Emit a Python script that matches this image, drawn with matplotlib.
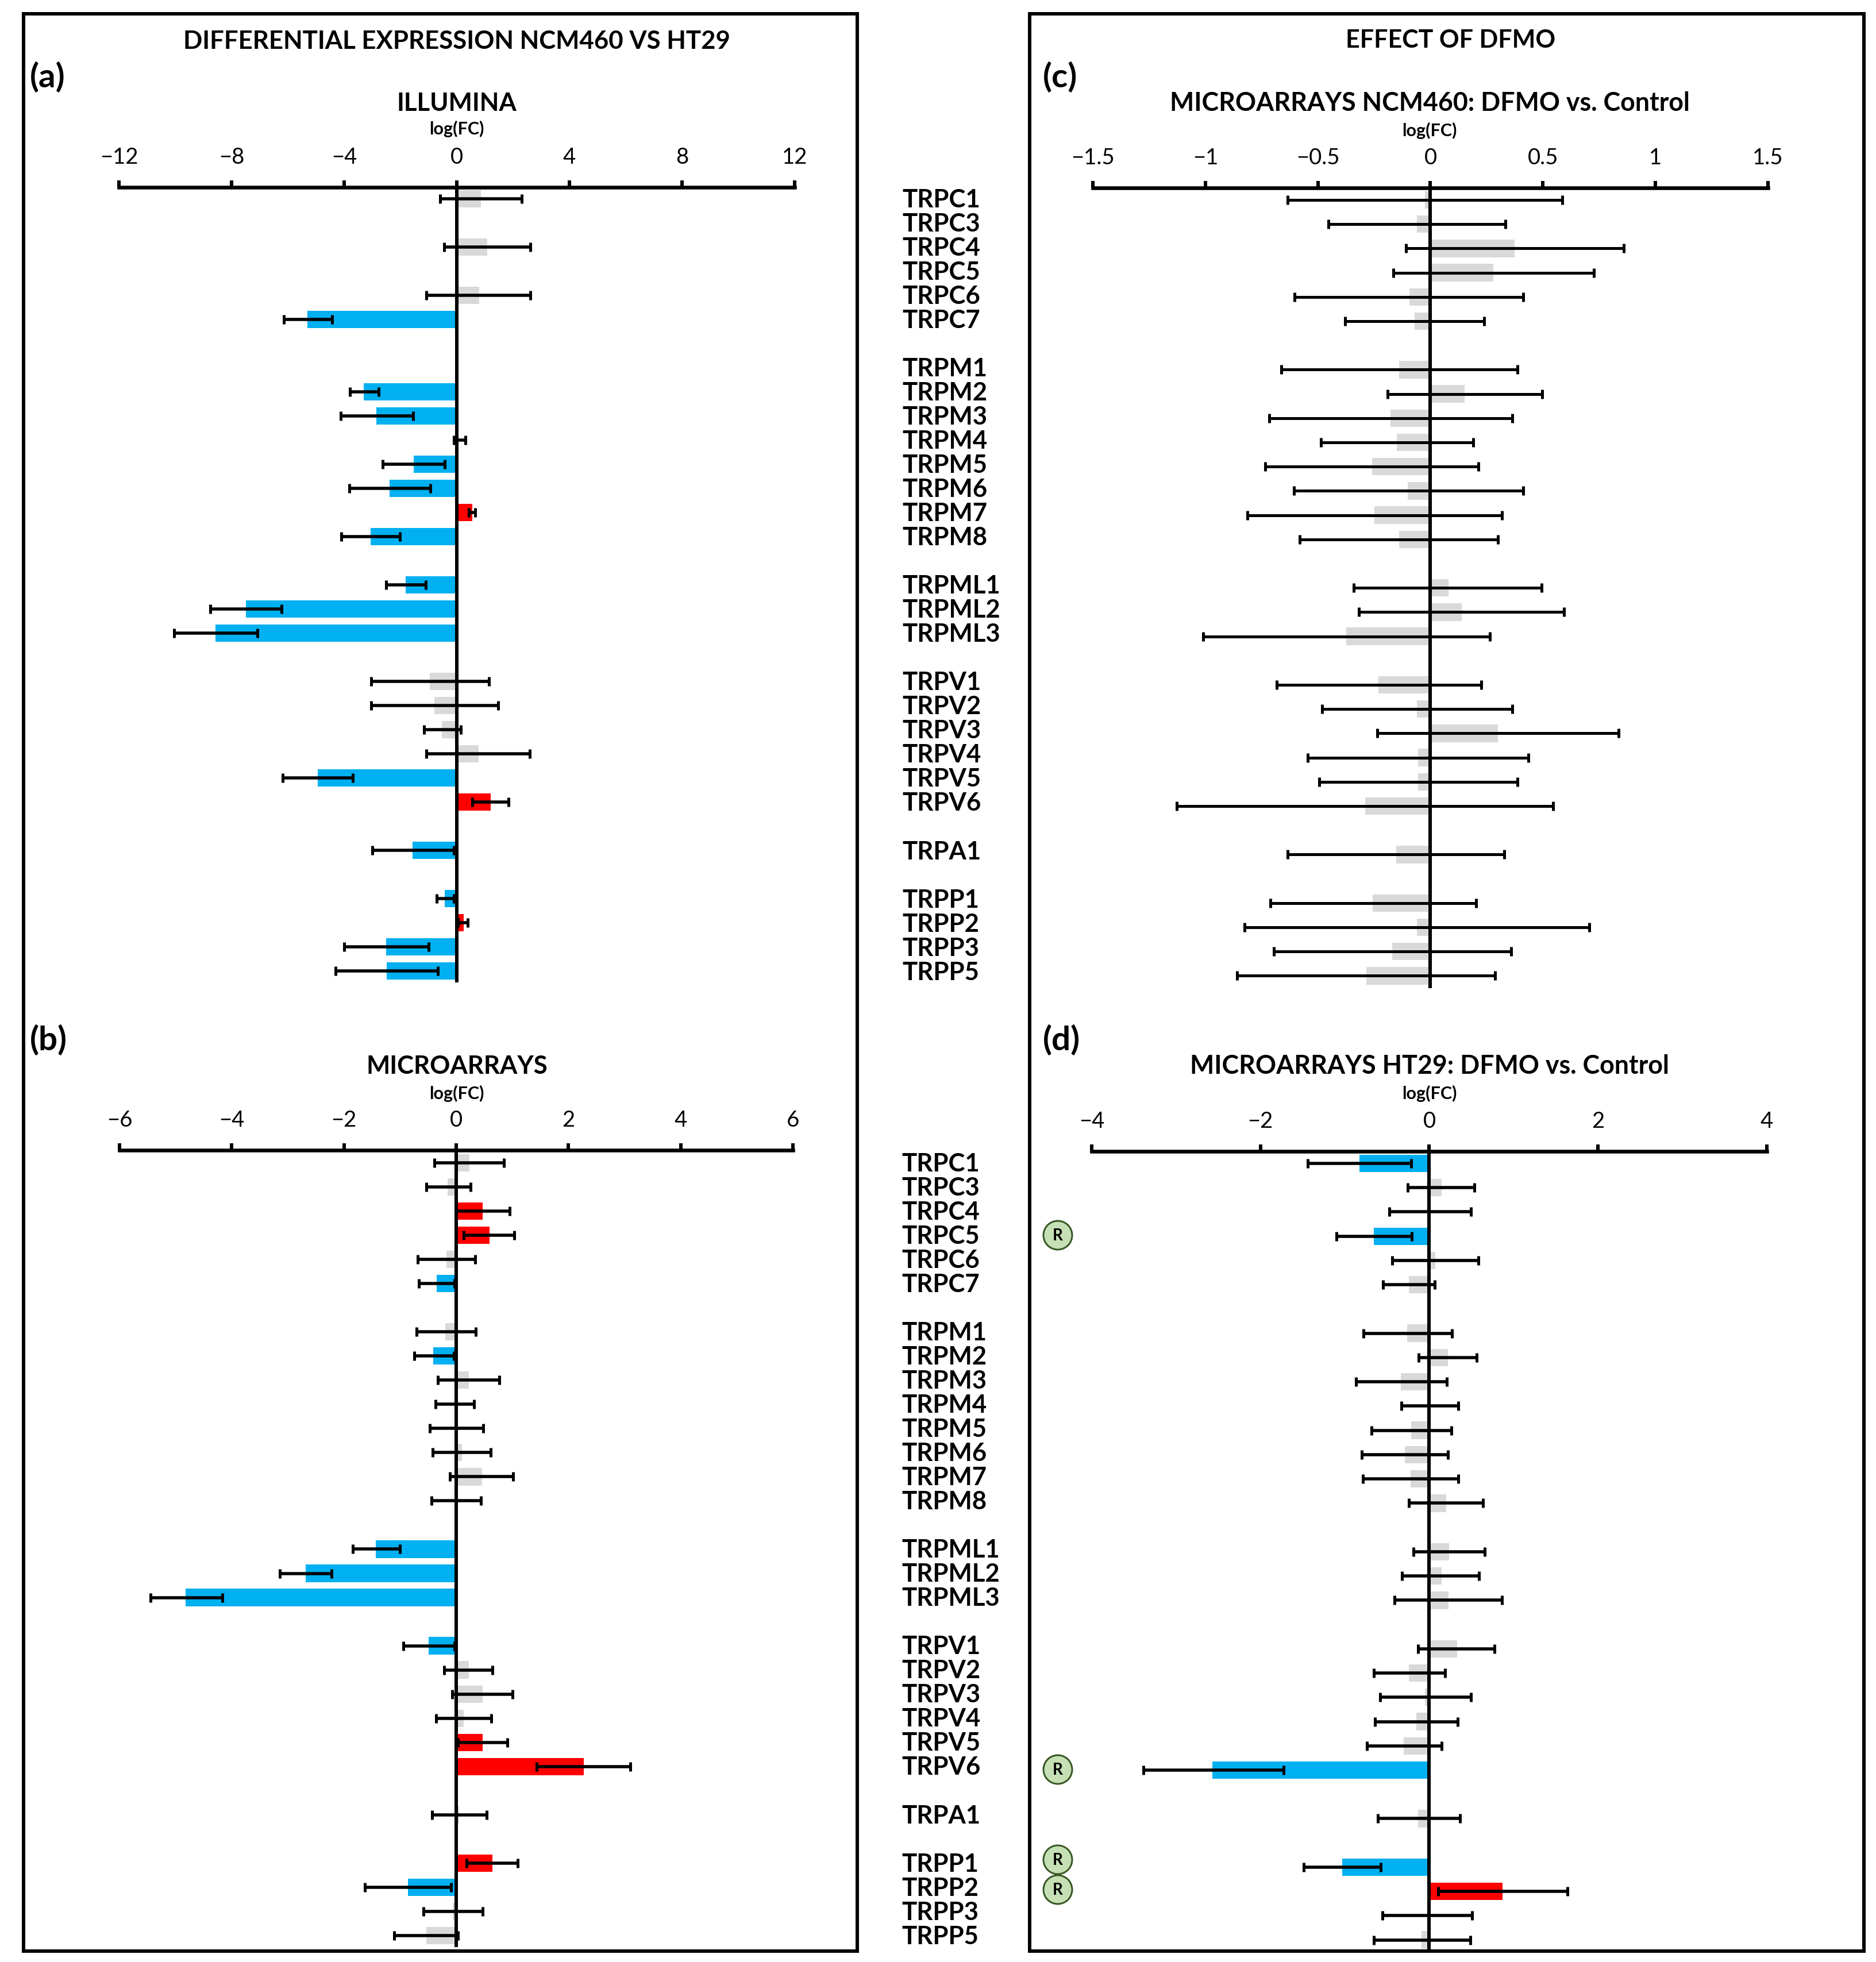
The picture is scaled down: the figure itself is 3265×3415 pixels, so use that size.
import numpy as np
import matplotlib
matplotlib.use("Agg")
import matplotlib.pyplot as plt
from matplotlib.patches import Rectangle, Ellipse

plt.rcParams["font.family"] = ["Lato", "DejaVu Sans"]

nan = np.nan

# gene rows, None leaves an empty row between the families
genes = ["TRPC1", "TRPC3", "TRPC4", "TRPC5", "TRPC6", "TRPC7", None,
         "TRPM1", "TRPM2", "TRPM3", "TRPM4", "TRPM5", "TRPM6", "TRPM7", "TRPM8", None,
         "TRPML1", "TRPML2", "TRPML3", None,
         "TRPV1", "TRPV2", "TRPV3", "TRPV4", "TRPV5", "TRPV6", None,
         "TRPA1", None,
         "TRPP1", "TRPP2", "TRPP3", "TRPP5"]

# (a) Illumina: bar value, whisker ends
a_val = [0.85, nan, 1.08, nan, 0.79, -5.31, nan,
         nan, -3.31, -2.85, nan, -1.54, -2.38, 0.55, -3.06, nan,
         -1.82, -7.49, -8.58, nan,
         -0.96, -0.79, -0.53, 0.78, -4.93, 1.2, nan,
         -1.575, nan,
         -0.43, 0.25, -2.51, -2.49]
a_lo = [-0.6, nan, -0.44, nan, -1.08, -6.15, nan,
        nan, -3.79, -4.125, -0.1, -2.63, -3.815, 0.43, -4.11, nan,
        -2.51, -8.76, -10.05, nan,
        -3.05, -3.05, -1.17, -1.08, -6.18, 0.55, nan,
        -3.0, nan,
        -0.72, 0.05, -4.01, -4.3]
a_hi = [2.31, nan, 2.62, nan, 2.62, -4.42, nan,
        nan, -2.77, -1.56, 0.31, -0.43, -0.94, 0.65, -2.02, nan,
        -1.11, -6.22, -7.08, nan,
        1.146, 1.47, 0.14, 2.6, -3.7, 1.84, nan,
        -0.1, nan,
        -0.1, 0.39, -1.0, -0.68]

# (b) Microarrays
b_val = [0.24, -0.15, 0.47, 0.59, -0.176, -0.35, nan,
         -0.19, -0.405, 0.23, nan, nan, 0.1, 0.457, nan, nan,
         -1.43, -2.68, -4.82, nan,
         -0.496, 0.222, 0.47, 0.13, 0.476, 2.278, nan,
         0.05, nan,
         0.64, -0.86, -0.065, -0.535]
b_lo = [-0.385, -0.53, 0.0, 0.137, -0.685, -0.665, nan,
        -0.71, -0.744, -0.326, -0.365, -0.47, -0.418, -0.117, -0.444, nan,
        -1.84, -3.14, -5.45, nan,
        -0.946, -0.21, -0.07, -0.36, 0.03, 1.43, nan,
        -0.43, nan,
        0.183, -1.625, -0.587, -1.11]
b_hi = [0.85, 0.255, 0.95, 1.03, 0.34, -0.03, nan,
        0.346, -0.046, 0.764, 0.313, 0.483, 0.614, 1.012, 0.437, nan,
        -1.005, -2.226, -4.165, nan,
        -0.03, 0.646, 1.005, 0.62, 0.907, 3.107, nan,
        0.54, nan,
        1.097, -0.09, 0.47, 0.033]

# (c) NCM460 DFMO vs control
c_val = [-0.025, -0.06, 0.375, 0.28, -0.094, -0.07, nan,
         -0.14, 0.153, -0.178, -0.15, -0.26, -0.1, -0.25, -0.14, nan,
         0.08, 0.138, -0.373, nan,
         -0.23, -0.06, 0.3, -0.055, -0.054, -0.29, nan,
         -0.153, nan,
         -0.256, -0.059, -0.171, -0.285]
c_lo = [-0.635, -0.452, -0.109, -0.165, -0.605, -0.378, nan,
        -0.662, -0.19, -0.716, -0.486, -0.733, -0.607, -0.813, -0.58, nan,
        -0.34, -0.318, -1.01, nan,
        -0.682, -0.482, -0.235, -0.546, -0.493, -1.127, nan,
        -0.634, nan,
        -0.71, -0.826, -0.697, -0.858]
c_hi = [0.585, 0.333, 0.859, 0.726, 0.412, 0.24, nan,
        0.388, 0.496, 0.365, 0.19, 0.213, 0.412, 0.318, 0.3, nan,
        0.495, 0.593, 0.265, nan,
        0.225, 0.365, 0.837, 0.436, 0.388, 0.546, nan,
        0.329, nan,
        0.202, 0.707, 0.36, 0.288]

# (d) HT29 DFMO vs control
d_val = [-0.828, 0.143, nan, -0.657, 0.073, -0.24, nan,
         -0.26, 0.223, -0.337, nan, -0.212, -0.289, -0.219, 0.2, nan,
         0.237, 0.143, 0.23, nan,
         0.327, -0.24, -0.05, -0.153, -0.303, -2.57, nan,
         -0.132, nan,
         -1.03, 0.87, -0.024, -0.09]
d_lo = [-1.437, -0.254, -0.47, -1.1, -0.438, -0.546, nan,
        -0.78, -0.125, -0.87, -0.33, -0.685, -0.797, -0.786, -0.24, nan,
        -0.184, -0.32, -0.41, nan,
        -0.132, -0.66, -0.58, -0.643, -0.737, -3.39, nan,
        -0.61, nan,
        -1.49, 0.104, -0.553, -0.657]
d_hi = [-0.212, 0.532, 0.497, -0.205, 0.58, 0.066, nan,
        0.27, 0.563, 0.209, 0.344, 0.264, 0.223, 0.344, 0.64, nan,
        0.654, 0.59, 0.863, nan,
        0.776, 0.19, 0.497, 0.34, 0.146, -1.725, nan,
        0.362, nan,
        -0.574, 1.638, 0.508, 0.49]

a_ticks = [-12, -8, -4, 0, 4, 8, 12]
b_ticks = [-6, -4, -2, 0, 2, 4, 6]
c_ticks = [-1.5, -1, -0.5, 0, 0.5, 1, 1.5]
d_ticks = [-4, -2, 0, 2, 4]

BLUE = "#00B0F0"
RED = "#FF0000"
GRAY = "#D9D9D9"

W, H = 3266, 3416
fig = plt.figure(figsize=(W / 100, H / 100), dpi=100)


def px(n):
    # pixels to points at dpi 100
    return n * 0.72


def label(x, y, s, size, weight="bold", ha="center"):
    fig.text(x / W, 1 - y / H, s, fontsize=size, fontweight=weight, ha=ha, va="center", color="black")


def panel(val, lo, hi, ticks, left, right, axis_y, row0, step, bottom, err_px):
    ax = fig.add_axes([left / W, 1 - bottom / H, (right - left) / W, (bottom - axis_y) / H])
    ax.patch.set_alpha(0)
    val = np.array(val)
    lo = np.array(lo)
    hi = np.array(hi)
    rows = np.arange(len(val))
    colors = [BLUE if h < 0 else RED if l > -0.025 else GRAY for l, h in zip(lo, hi)]
    ax.barh(rows, val, height=0.72, color=colors, linewidth=0)
    ax.errorbar((lo + hi) / 2, rows, xerr=(hi - lo) / 2, fmt="none", ecolor="black",
                elinewidth=px(err_px), capsize=px(8), capthick=px(5), zorder=3)
    ax.axvline(0, color="black", lw=px(6), zorder=4)
    ax.set_xlim(ticks[0], ticks[-1])
    ax.set_ylim((bottom - row0) / step, -(row0 - axis_y) / step)
    ax.xaxis.tick_top()
    ax.set_xticks(ticks)
    ax.set_xticklabels([f"{t:g}".replace("-", "\u2212") for t in ticks], fontsize=27.5)
    ax.tick_params(axis="x", length=px(12), width=px(6), pad=px(23), color="black")
    ax.set_yticks([])
    for side in ["left", "right", "bottom"]:
        ax.spines[side].set_visible(False)
    ax.spines["top"].set_linewidth(px(6.5))
    return ax


panel(a_val, a_lo, a_hi, a_ticks, 207, 1383, 327, 347, 42.0, 1711, 5.5)
panel(b_val, b_lo, b_hi, b_ticks, 208, 1380, 2003, 2025, 42.03, 3390, 5.5)
panel(c_val, c_lo, c_hi, c_ticks, 1902, 3077, 328, 349, 42.2, 1721, 5)
panel(d_val, d_lo, d_hi, d_ticks, 1900, 3075, 2005, 2026, 42.24, 3394, 5.5)

# frames round the two columns
for x0, x1 in [(41, 1492), (1792, 3244)]:
    fig.add_artist(Rectangle((x0 / W, 1 - 3397 / H), (x1 - x0) / W, (3397 - 25) / H,
                             transform=fig.transFigure, fill=False, edgecolor="black", linewidth=px(6)))

# gene names between the panels
for row0, x in [(348, 1570), (2026, 1569)]:
    for i, g in enumerate(genes):
        if g:
            label(x, row0 + i * 42.02, g, 31.5, ha="left")

label(795, 72, "DIFFERENTIAL EXPRESSION NCM460 VS HT29", 31.5)
label(2525, 70, "EFFECT OF DFMO", 31)
label(795, 180, "ILLUMINA", 31.5)
label(795, 1856, "MICROARRAYS", 31.5)
label(2488, 180, "MICROARRAYS NCM460: DFMO vs. Control", 32.2)
label(2488, 1856, "MICROARRAYS HT29: DFMO vs. Control", 32.2)
for x, y in [(795, 224), (795, 1903), (2488, 227), (2488, 1903)]:
    label(x, y, "log(FC)", 22)
label(52, 135, "(a)", 42, ha="left")
label(52, 1811, "(b)", 42, ha="left")
label(1815, 135, "(c)", 42, ha="left")
label(1815, 1811, "(d)", 42, ha="left")

# R markers beside panel d
for y in [2151, 3081, 3238, 3290]:
    fig.add_artist(Ellipse((1841 / W, 1 - y / H), 50 / W, 50 / H, transform=fig.transFigure,
                           facecolor="#C5E0B4", edgecolor="#385723", linewidth=px(3)))
    label(1841, y, "R", 20)

fig.savefig("out.png", dpi=100)
